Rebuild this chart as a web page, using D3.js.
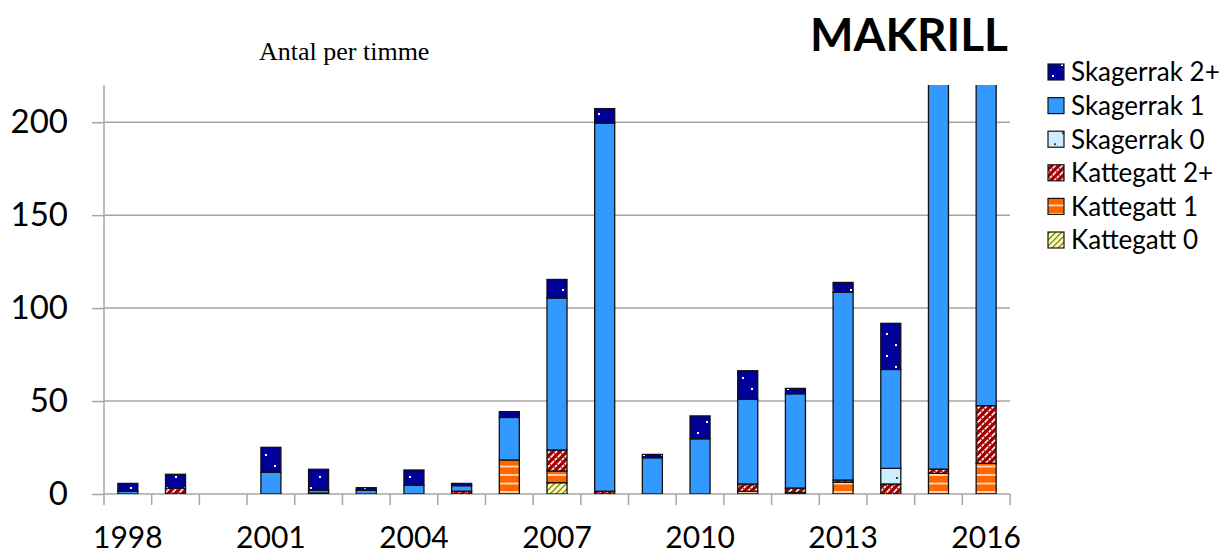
<!DOCTYPE html>
<html>
<head>
<meta charset="utf-8">
<script src="https://cdn.jsdelivr.net/npm/d3@7"></script>
<style>
  body { margin: 0; background: #fff; }
  svg { display: block; }
</style>
</head>
<body>
<svg id="chart" width="1221" height="555"></svg>
<script>
// Data
// ----
const years = d3.range(1998, 2017);
const tickYears = [1998, 2001, 2004, 2007, 2010, 2013, 2016];
const yTicks = [0, 50, 100, 150, 200];

// series values per year, 1998 .. 2016 (stacked bottom to top)
const kattegatt0  = [0, 0, 0, 0, 0, 0, 0, 0, 0, 6.1, 0, 0, 0, 0, 0, 0, 0, 0, 0];
const kattegatt1  = [0, 0, 0, 0, 0, 0, 0, 0, 18.3, 6.3, 0, 0, 0, 1.5, 0.8, 6.3, 0, 11.1, 16.5];
const kattegatt2  = [0, 3.1, 0, 0, 0.5, 0, 0, 1.5, 0, 11.3, 1.5, 0, 0, 3.9, 2.4, 1.2, 5.4, 2.3, 31];
const skagerrak0  = [0, 0, 0, 0, 0, 0, 0, 0, 0, 0, 0, 0, 0, 0, 0, 0, 8.4, 0, 0];
const skagerrak1  = [1.5, 0, 0, 11.7, 1.5, 2, 4.7, 3, 22.9, 81.7, 198, 19.5, 29.7, 45.5, 50.7, 101.1, 53.2, 300, 280];
const skagerrak2  = [4.2, 7.5, 0, 13.4, 11.3, 1.4, 8.2, 1.2, 3.1, 10, 7.8, 1.8, 12.3, 15.4, 2.9, 5.2, 24.8, 20, 20];

const seriesKeys = ["Kattegatt 0", "Kattegatt 1", "Kattegatt 2+", "Skagerrak 0", "Skagerrak 1", "Skagerrak 2+"];
const seriesValues = [kattegatt0, kattegatt1, kattegatt2, skagerrak0, skagerrak1, skagerrak2];
const legendOrder = ["Skagerrak 2+", "Skagerrak 1", "Skagerrak 0", "Kattegatt 2+", "Kattegatt 1", "Kattegatt 0"];

// Layout
// ------
const svg = d3.select("#chart");
const margin = { left: 104, right: 211, top: 85, bottom: 61 };
const width = 1221, height = 555;
const font = "Lato, 'Open Sans', sans-serif";

const x = d3.scaleBand()
    .domain(years)
    .range([margin.left, width - margin.right])
    .padding(0);
const barW = x.bandwidth() * 0.42;

const y = d3.scaleLinear()
    .domain([0, 220])
    .range([height - margin.bottom, margin.top]);

// Patterns
// --------
const defs = svg.append("defs");

function pattern(id, w, h, bg) {
    const p = defs.append("pattern")
        .attr("id", id)
        .attr("patternUnits", "userSpaceOnUse")
        .attr("width", w).attr("height", h);
    p.append("rect").attr("width", w).attr("height", h).attr("fill", bg);
    return p;
}

// Skagerrak 2+: navy with a few white dots
let p = pattern("p-s2", 18, 22, "#000099");
[[4, 3], [13, 14]].forEach(d => p.append("rect").attr("x", d[0]).attr("y", d[1]).attr("width", 2).attr("height", 2).attr("fill", "#fff"));

// Skagerrak 1: plain blue
pattern("p-s1", 10, 10, "#3399ff");

// Skagerrak 0: pale blue with dark dots
p = pattern("p-s0", 18, 22, "#cceeff");
[[6, 4], [14, 15]].forEach(d => p.append("rect").attr("x", d[0]).attr("y", d[1]).attr("width", 2).attr("height", 2).attr("fill", "#444"));

// Kattegatt 2+: dark red with white diagonals
p = pattern("p-k2", 7, 7, "#a50000");
p.append("path").attr("d", "M-1,8 L8,-1 M-1,1 L1,-1 M6,8 L8,6")
    .attr("stroke", "#fff").attr("stroke-width", 1.6).attr("stroke-dasharray", "3,1");

// Kattegatt 1: orange with white horizontal lines
p = pattern("p-k1", 10, 8.5, "#ff6600");
p.append("line").attr("x1", 0).attr("x2", 10).attr("y1", 7.5).attr("y2", 7.5)
    .attr("stroke", "#fff").attr("stroke-width", 1.4);

// Kattegatt 0: pale yellow with dark diagonals
p = pattern("p-k0", 6, 6, "#ffff99");
p.append("path").attr("d", "M-1,7 L7,-1 M-1,1 L1,-1 M5,7 L7,5")
    .attr("stroke", "#666").attr("stroke-width", 1.2);

const fills = {
    "Skagerrak 2+": "url(#p-s2)",
    "Skagerrak 1": "url(#p-s1)",
    "Skagerrak 0": "url(#p-s0)",
    "Kattegatt 2+": "url(#p-k2)",
    "Kattegatt 1": "url(#p-k1)",
    "Kattegatt 0": "url(#p-k0)"
};

defs.append("clipPath").attr("id", "plot-clip")
    .append("rect")
    .attr("x", margin.left).attr("y", margin.top)
    .attr("width", width - margin.left - margin.right)
    .attr("height", height - margin.top - margin.bottom);

// Gridlines
// ---------
svg.append("g")
    .selectAll("line")
    .data(yTicks)
    .join("line")
    .attr("x1", margin.left).attr("x2", width - margin.right)
    .attr("y1", d => y(d)).attr("y2", d => y(d))
    .attr("stroke", "#a6a6a6").attr("stroke-width", 1.5);

// Y axis
// ------
const yAxis = svg.append("g")
    .attr("transform", `translate(${margin.left},0)`)
    .call(d3.axisLeft(y).tickValues(yTicks).tickSize(12).tickPadding(24).tickFormat(d3.format("d")));
yAxis.select(".domain").remove();
yAxis.append("line")
    .attr("x1", 0).attr("x2", 0)
    .attr("y1", margin.top).attr("y2", height - margin.bottom + 11)
    .attr("stroke", "#a6a6a6").attr("stroke-width", 1.5);
yAxis.selectAll(".tick line").attr("stroke", "#a6a6a6").attr("stroke-width", 1.5);
yAxis.selectAll(".tick text")
    .attr("font-family", font).attr("font-size", 33).attr("fill", "#000");

// X axis (boundary ticks + labels every third year)
// ------
const xAxis = svg.append("g")
    .attr("transform", `translate(0,${y(0)})`)
    .call(d3.axisBottom(x).tickSize(0).tickPadding(33)
        .tickFormat(d => tickYears.includes(d) ? d : ""));
xAxis.select(".domain").remove();
xAxis.selectAll(".tick text")
    .attr("font-family", font).attr("font-size", 30).attr("fill", "#000")
    .attr("dy", "0.71em");
xAxis.selectAll(".boundary")
    .data(years.slice(1).concat([null]))
    .join("line")
    .attr("class", "boundary")
    .attr("x1", d => d === null ? width - margin.right : x(d))
    .attr("x2", d => d === null ? width - margin.right : x(d))
    .attr("y1", 0).attr("y2", 11)
    .attr("stroke", "#a6a6a6").attr("stroke-width", 1.5);

// Stacked bars
// ------------
const rows = years.map((yr, i) => {
    const r = { year: yr };
    seriesKeys.forEach((k, j) => r[k] = seriesValues[j][i]);
    return r;
});
const stacked = d3.stack().keys(seriesKeys)(rows);

svg.append("g")
    .attr("clip-path", "url(#plot-clip)")
    .selectAll("g")
    .data(stacked)
    .join("g")
    .attr("fill", d => fills[d.key])
    .selectAll("rect")
    .data(d => d.filter(s => s[1] - s[0] > 0))
    .join("rect")
    .attr("x", d => x(d.data.year) + (x.bandwidth() - barW) / 2)
    .attr("width", barW)
    .attr("y", d => y(d[1]))
    .attr("height", d => y(d[0]) - y(d[1]))
    .attr("stroke", "#111")
    .attr("stroke-width", 1.3);

// Titles
// ------
svg.append("text")
    .attr("x", 259).attr("y", 60)
    .attr("font-family", "'Liberation Serif', 'Times New Roman', serif")
    .attr("font-size", 26)
    .text("Antal per timme");

svg.append("text")
    .attr("x", 1008).attr("y", 51)
    .attr("text-anchor", "end")
    .attr("font-family", font).attr("font-weight", "bold")
    .attr("font-size", 46)
    .text("MAKRILL");

// Legend
// ------
const legend = svg.append("g")
    .selectAll("g")
    .data(legendOrder)
    .join("g")
    .attr("transform", (d, i) => `translate(1048,${72 + i * 33.6})`);
legend.append("rect")
    .attr("x", 0).attr("y", -8).attr("width", 16).attr("height", 16)
    .attr("fill", d => fills[d]).attr("stroke", "#111").attr("stroke-width", 1.2);
legend.append("text")
    .attr("x", 23).attr("dy", "0.36em")
    .attr("font-family", font).attr("font-size", 26)
    .text(d => d);
</script>
</body>
</html>
